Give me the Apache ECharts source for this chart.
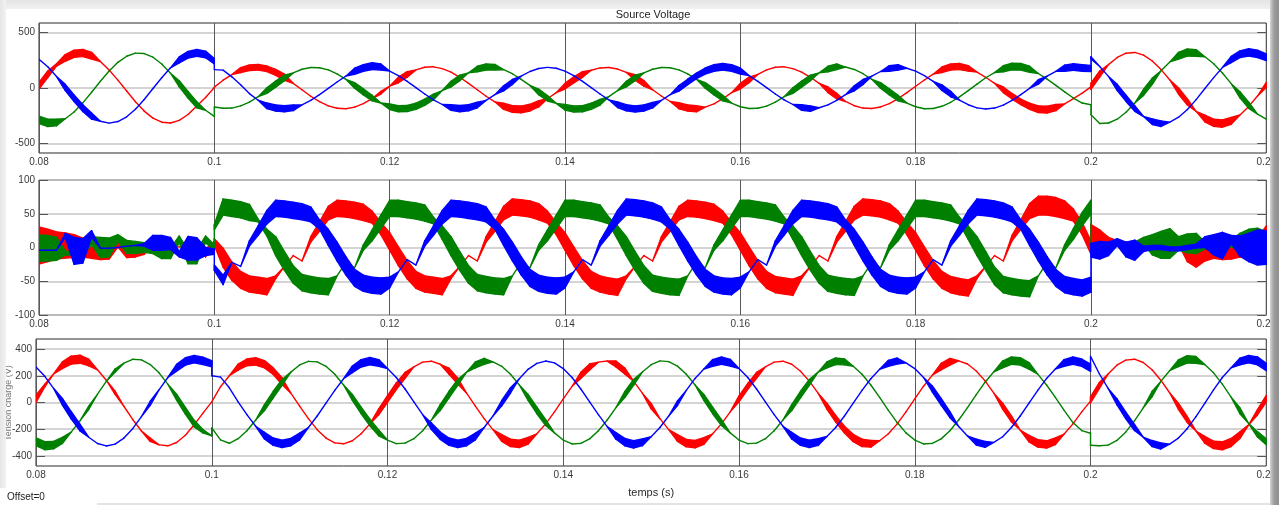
<!DOCTYPE html>
<html>
<head>
<meta charset="utf-8">
<script src="https://cdn.jsdelivr.net/npm/echarts@6/dist/echarts.min.js"></script>
<style>
  html, body { margin: 0; padding: 0; width: 1279px; height: 505px; overflow: hidden; background: #ffffff; }
  #chart { position: absolute; left: 0; top: 0; width: 1279px; height: 505px; }
  .edge { position: absolute; pointer-events: none; z-index: 5; }
  #edgeTop { left: 0; top: 0; width: 1279px; height: 9px; background: linear-gradient(to bottom, #e4e4e4, #f1f1f1); }
  #edgeLeft { left: 0; top: 0; width: 6px; height: 488px; background: linear-gradient(to right, #e6e6e6, #f2f2f2); }
  #edgeRight { left: 1270px; top: 0; width: 9px; height: 505px; background: linear-gradient(to right, #d4d4d4, #9c9c9c 45%, #8e8e8e); }
  #edgeBottom { left: 97px; top: 503px; width: 1173px; height: 2px; background: #e4e4e4; }
</style>
</head>
<body>
<div id="chart"></div>
<div class="edge" id="edgeTop"></div>
<div class="edge" id="edgeLeft"></div>
<div class="edge" id="edgeRight"></div>
<div class="edge" id="edgeBottom"></div>
<script>
// Sample instants in milliseconds. 100 ms and 200 ms appear twice so the
// step changes at the switching instants are drawn as vertical jumps.
const sampleMs = [
  80, 81, 82, 83, 84, 85, 86, 87, 88, 89, 90, 91, 92, 93, 94, 95, 96, 97, 98, 99, 100,
  100,
  101, 102, 103, 104, 105, 106, 107, 108, 109, 110, 111, 112, 113, 114, 115, 116, 117, 118, 119, 120,
  121, 122, 123, 124, 125, 126, 127, 128, 129, 130, 131, 132, 133, 134, 135, 136, 137, 138, 139, 140,
  141, 142, 143, 144, 145, 146, 147, 148, 149, 150, 151, 152, 153, 154, 155, 156, 157, 158, 159, 160,
  161, 162, 163, 164, 165, 166, 167, 168, 169, 170, 171, 172, 173, 174, 175, 176, 177, 178, 179, 180,
  181, 182, 183, 184, 185, 186, 187, 188, 189, 190, 191, 192, 193, 194, 195, 196, 197, 198, 199, 200,
  200, 201, 202, 203, 204, 205, 206, 207, 208, 209, 210, 211, 212, 213, 214, 215, 216, 217, 218, 219, 220
];

// ---- Source voltage (V): centre value and ripple band width per sample ----
const srcRed = [
  20, 123, 207, 270, 307, 314, 290, 238, 162, 71, -27, -123, -207, -270, -307, -314, -290, -238, -162, -85, 5,
  8,
  70, 120, 160, 182, 186, 172, 140, 96, 42, -16, -74, -122, -160, -182, -186, -172, -140, -96, -42, 16,
  72, 122, 162, 186, 190, 174, 142, 96, 42, -16, -74, -124, -164, -188, -192, -176, -142, -96, -42, 16,
  72, 121, 159, 180, 184, 170, 140, 95, 42, -16, -72, -121, -159, -180, -186, -172, -142, -96, -42, 16,
  72, 122, 162, 186, 190, 174, 142, 96, 42, -16, -72, -121, -159, -180, -184, -170, -140, -95, -42, 16,
  72, 124, 164, 188, 192, 176, 142, 96, 42, -16, -74, -124, -164, -190, -194, -176, -142, -96, -46, 10,
  15, 125, 210, 274, 312, 319, 295, 242, 165, 72, -28, -125, -210, -274, -312, -319, -295, -242, -165, -72, 28
];
const srcRedBand = [
  60, 60, 20, 60, 65, 65, 60, 0, 0, 0, 0, 0, 0, 0, 0, 0, 0, 0, 0, 0, 0,
  0,
  0, 0, 45, 50, 50, 50, 55, 55, 0, 0, 0, 0, 0, 0, 0, 0, 0, 0, 25, 0,
  50, 50, 0, 0, 0, 0, 0, 0, 0, 0, 0, 0, 55, 60, 60, 60, 55, 0, 0, 50,
  55, 50, 0, 0, 0, 0, 0, 50, 50, 0, 0, 0, 55, 55, 55, 0, 0, 0, 0, 50,
  50, 0, 0, 0, 0, 0, 0, 0, 0, 50, 50, 0, 0, 0, 0, 0, 0, 0, 0, 0,
  0, 0, 50, 55, 55, 50, 0, 0, 0, 50, 50, 50, 55, 60, 60, 55, 0, 0, 0, 0,
  55, 55, 0, 0, 0, 0, 0, 0, 0, 0, 55, 55, 0, 60, 65, 65, 60, 0, 0, 0, 45
];
const srcGreen = [
  -285, -313, -309, -276, -215, -133, -38, 60, 153, 230, 285, 313, 309, 276, 215, 133, 38, -60, -150, -200, -255,
  -170,
  -182, -180, -160, -126, -78, -23, 35, 90, 135, 168, 184, 182, 162, 126, 78, 23, -35, -90, -135, -168,
  -186, -184, -164, -128, -80, -23, 35, 90, 136, 170, 188, 186, 164, 128, 78, 23, -35, -92, -138, -172,
  -188, -186, -164, -128, -78, -23, 35, 90, 135, 168, 184, 182, 162, 126, 78, 23, -35, -90, -135, -168,
  -184, -182, -162, -126, -78, -23, 35, 90, 136, 170, 190, 188, 166, 128, 78, 23, -35, -90, -135, -168,
  -186, -184, -164, -128, -80, -23, 35, 92, 138, 172, 192, 190, 168, 130, 80, 23, -35, -90, -135, -150,
  -240, -318, -314, -280, -218, -135, -39, 61, 155, 234, 290, 318, 314, 280, 218, 135, 39, -61, -155, -234, -280
];
const srcGreenBand = [
  65, 65, 60, 0, 0, 0, 0, 0, 0, 0, 0, 0, 0, 0, 0, 0, 55, 60, 55, 0, 0,
  0,
  0, 0, 0, 0, 0, 50, 55, 50, 0, 0, 0, 0, 0, 0, 0, 50, 55, 50, 0, 50,
  55, 55, 55, 55, 50, 0, 50, 50, 0, 50, 55, 50, 0, 0, 0, 0, 50, 50, 0, 50,
  55, 55, 55, 50, 0, 0, 50, 50, 0, 0, 0, 0, 0, 0, 0, 50, 55, 50, 0, 0,
  0, 0, 0, 0, 0, 50, 55, 50, 0, 50, 50, 0, 0, 0, 0, 50, 55, 50, 0, 0,
  0, 0, 0, 0, 0, 0, 0, 0, 0, 55, 60, 60, 55, 0, 0, 0, 0, 0, 0, 0,
  0, 0, 0, 0, 0, 0, 55, 55, 0, 0, 60, 65, 60, 0, 0, 0, 0, 55, 55, 0, 0
];
const srcBlue = [
  258, 190, 103, 5, -92, -181, -252, -298, -315, -301, -258, -190, -103, -5, 92, 181, 252, 298, 315, 301, 240,
  165,
  160, 100, 30, -50, -110, -160, -180, -186, -178, -152, -111, -60, -3, 54, 106, 150, 180, 196, 188, 152,
  111, 60, 3, -54, -106, -148, -175, -185, -177, -152, -111, -60, -3, 54, 106, 148, 175, 185, 177, 152,
  111, 60, 3, -54, -106, -150, -178, -188, -180, -154, -111, -60, -3, 54, 108, 152, 180, 190, 180, 152,
  111, 60, 3, -54, -106, -148, -175, -185, -177, -152, -111, -60, -3, 54, 106, 148, 175, 185, 177, 152,
  111, 60, 3, -54, -108, -150, -178, -188, -180, -154, -111, -60, -3, 54, 106, 150, 178, 188, 180, 175,
  270, 193, 104, 5, -93, -184, -256, -303, -320, -306, -262, -193, -104, -5, 93, 184, 256, 303, 320, 306, 275
];
const srcBlueBand = [
  0, 0, 0, 55, 60, 60, 55, 0, 0, 0, 0, 0, 0, 0, 0, 0, 55, 60, 60, 60, 50,
  0,
  0, 0, 0, 0, 0, 50, 55, 55, 50, 0, 0, 0, 0, 0, 0, 55, 60, 60, 55, 0,
  0, 0, 0, 0, 0, 0, 50, 55, 55, 50, 0, 0, 45, 45, 0, 0, 0, 0, 0, 0,
  0, 0, 0, 0, 0, 50, 55, 55, 55, 50, 0, 0, 50, 50, 50, 55, 60, 60, 60, 55,
  0, 0, 0, 0, 0, 0, 50, 50, 0, 0, 0, 0, 45, 45, 0, 0, 50, 50, 0, 0,
  0, 0, 50, 50, 0, 0, 0, 0, 0, 0, 0, 0, 0, 40, 0, 0, 55, 60, 60, 55,
  20, 0, 0, 55, 55, 50, 0, 50, 50, 0, 0, 0, 0, 0, 0, 0, 55, 60, 65, 65, 60
];

// ---- Injected current (A) ----
const curRed = [
  3, 3, 3, 3, 2, 0, -8, -11, -11, 8, -6, -6, -4, 6, -1, 0, 1, 1, 1, -8, 6,
  8,
  -15, -35, -48, -54, -56, -58, -44, -28, -12, -20, 12, 31, 51, 58, 57, 55, 52, 45, 28, 9,
  -13, -33, -48, -54, -56, -58, -44, -28, -12, -20, 12, 31, 51, 60, 59, 57, 53, 45, 28, 9,
  -13, -33, -48, -54, -57, -59, -44, -28, -12, -20, 12, 31, 51, 58, 57, 55, 52, 45, 28, 9,
  -13, -33, -48, -55, -57, -59, -44, -28, -12, -20, 12, 31, 51, 60, 59, 57, 53, 45, 28, 9,
  -13, -33, -48, -55, -58, -60, -44, -28, -12, -20, 14, 34, 54, 62, 62, 60, 56, 48, 28, 0,
  14, 12, 9, 6, 4, 2, 1, 0, 0, 0, 10, -10, -14, -10, -6, -6, -6, -4, -4, 0, 20
];
const curRedBand = [
  55, 48, 40, 37, 34, 28, 16, 14, 12, 14, 18, 16, 12, 4, 0, 0, 0, 0, 0, 12, 6,
  10,
  28, 27, 25, 24, 24, 24, 4, 0, 0, 0, 8, 14, 20, 24, 24, 24, 24, 18, 18, 26,
  28, 27, 25, 24, 24, 24, 4, 0, 0, 0, 8, 14, 20, 24, 24, 24, 24, 18, 18, 26,
  28, 27, 25, 24, 24, 24, 4, 0, 0, 0, 8, 14, 20, 24, 24, 24, 24, 18, 18, 26,
  28, 27, 25, 24, 24, 24, 4, 0, 0, 0, 8, 14, 20, 24, 24, 24, 24, 18, 18, 26,
  28, 27, 25, 24, 24, 24, 4, 0, 0, 0, 8, 14, 22, 28, 28, 28, 26, 18, 18, 20,
  40, 28, 12, 8, 8, 6, 4, 4, 4, 4, 10, 22, 30, 20, 20, 24, 22, 20, 24, 28, 24
];
const curGreen = [
  -1, -1, -2, -8, -9, -9, 10, 0, 0, 14, 1, 0, 0, -7, -9, -9, 12, -14, -14, 12, 0,
  30,
  60, 58, 56, 52, 40, 22, 2, -20, -40, -52, -55, -57, -58, -42, -22, -30, 0, 18, 38, 58,
  58, 56, 54, 51, 40, 22, 2, -20, -40, -52, -55, -57, -58, -42, -22, -30, 0, 18, 38, 58,
  58, 56, 54, 51, 40, 22, 2, -20, -40, -53, -56, -58, -59, -42, -22, -30, 0, 18, 38, 58,
  58, 56, 54, 51, 40, 22, 2, -20, -40, -53, -56, -58, -59, -42, -22, -30, 0, 18, 38, 58,
  58, 56, 54, 51, 40, 22, 2, -20, -42, -55, -58, -60, -61, -42, -22, -30, 0, 20, 42, 60,
  3, 3, 4, 5, 5, 6, 10, 4, 4, 6, 6, 6, 6, 3, 2, 2, 6, 8, 10, 10, 8
];
const curGreenBand = [
  39, 38, 34, 6, 4, 4, 12, 30, 28, 10, 19, 18, 14, 4, 15, 15, 10, 20, 20, 10, 8,
  8,
  24, 24, 24, 24, 4, 10, 28, 28, 26, 24, 24, 24, 24, 0, 0, 0, 8, 16, 20, 24,
  24, 24, 24, 24, 10, 20, 28, 28, 26, 24, 24, 24, 24, 0, 0, 0, 8, 16, 20, 24,
  24, 24, 24, 24, 10, 20, 28, 28, 26, 24, 24, 24, 24, 0, 0, 0, 8, 16, 20, 24,
  24, 24, 24, 24, 10, 20, 28, 28, 26, 24, 24, 24, 24, 0, 0, 0, 8, 16, 20, 24,
  24, 24, 24, 24, 10, 20, 28, 28, 26, 24, 24, 24, 24, 0, 0, 0, 8, 16, 20, 20,
  0, 0, 0, 0, 4, 4, 10, 30, 40, 44, 20, 28, 30, 10, 4, 4, 10, 26, 34, 37, 30
];
const curBlue = [
  -4, -4, -4, 18, -5, -5, 20, -1, -1, 0, 2, 3, 4, 7, 7, 6, -10, -1, -2, -6, -6,
  -30,
  -48, -22, -28, 6, 25, 45, 58, 57, 55, 53, 49, 34, 15, -6, -27, -45, -53, -56, -57, -52,
  -36, -18, -26, 6, 25, 45, 58, 57, 55, 53, 49, 34, 15, -6, -27, -45, -53, -56, -57, -52,
  -36, -18, -26, 6, 25, 45, 60, 59, 57, 54, 49, 34, 15, -6, -27, -45, -54, -57, -58, -52,
  -36, -18, -26, 6, 25, 45, 58, 57, 55, 53, 49, 34, 15, -6, -27, -45, -53, -56, -57, -52,
  -36, -18, -26, 6, 25, 45, 60, 59, 57, 54, 49, 34, 15, -6, -27, -45, -55, -58, -60, -55,
  -4, -4, -2, 8, -3, -4, -2, 0, 0, -2, -2, 0, 2, 8, 4, 3, 12, 2, 0, 0, 0
];
const curBlueBand = [
  0, 0, 0, 6, 40, 36, 10, 0, 0, 0, 0, 0, 4, 22, 22, 18, 8, 35, 33, 12, 8,
  8,
  14, 0, 0, 8, 14, 20, 24, 24, 24, 24, 22, 14, 24, 28, 27, 25, 24, 24, 24, 16,
  0, 0, 0, 8, 14, 20, 24, 24, 24, 24, 22, 14, 24, 28, 27, 25, 24, 24, 24, 16,
  0, 0, 0, 8, 14, 20, 24, 24, 24, 24, 22, 14, 24, 28, 27, 25, 24, 24, 24, 16,
  0, 0, 0, 8, 14, 20, 24, 24, 24, 24, 22, 14, 24, 28, 27, 25, 24, 24, 24, 16,
  0, 0, 0, 8, 14, 20, 24, 24, 24, 24, 22, 14, 24, 28, 27, 25, 24, 24, 24, 22,
  20, 26, 20, 10, 22, 30, 8, 6, 6, 6, 6, 6, 6, 16, 30, 39, 12, 30, 42, 52, 50
];

// ---- Load voltage (V) ----
const loadRed = [
  28, 127, 213, 279, 317, 324, 299, 245, 167, 73, -28, -127, -213, -279, -317, -324, -299, -245, -167, -80, 5,
  5,
  118, 200, 264, 300, 308, 286, 234, 160, 70, -27, -121, -203, -266, -302, -309, -286, -234, -160, -70, 27,
  121, 203, 266, 302, 309, 286, 234, 160, 70, -27, -121, -203, -266, -302, -309, -286, -234, -160, -70, 27,
  121, 203, 266, 302, 310, 288, 236, 160, 70, -27, -121, -203, -266, -304, -312, -288, -234, -160, -70, 27,
  121, 203, 266, 302, 309, 286, 234, 160, 70, -27, -121, -203, -266, -302, -309, -286, -234, -160, -70, 27,
  122, 205, 268, 305, 312, 288, 236, 162, 70, -27, -123, -206, -270, -306, -314, -290, -236, -160, -70, 10,
  20, 127, 213, 279, 317, 324, 299, 245, 167, 73, -28, -127, -213, -279, -317, -324, -299, -245, -167, -73, 28
];
const loadRedBand = [
  55, 20, 0, 50, 60, 60, 50, 0, 0, 25, 0, 0, 0, 25, 0, 0, 0, 0, 0, 0, 0,
  0,
  0, 0, 45, 50, 55, 55, 50, 50, 0, 0, 0, 0, 0, 0, 0, 0, 0, 0, 45, 50,
  50, 45, 0, 0, 0, 0, 45, 45, 0, 0, 0, 0, 50, 55, 55, 50, 0, 0, 0, 0,
  0, 45, 45, 0, 0, 45, 45, 0, 0, 40, 0, 0, 50, 55, 55, 50, 0, 0, 0, 45,
  45, 45, 0, 0, 0, 0, 0, 0, 0, 45, 50, 50, 55, 55, 50, 0, 0, 0, 0, 0,
  0, 0, 50, 50, 0, 0, 0, 0, 0, 45, 45, 0, 50, 55, 55, 50, 0, 0, 0, 0,
  45, 45, 0, 0, 0, 0, 0, 0, 0, 0, 45, 45, 0, 50, 55, 60, 60, 50, 0, 40, 50
];
const loadGreen = [
  -294, -323, -319, -284, -222, -137, -40, 62, 158, 238, 294, 323, 319, 284, 222, 137, 40, -62, -158, -215, -250,
  -190,
  -280, -305, -271, -211, -131, -38, 59, 150, 227, 281, 308, 304, 271, 211, 131, 38, -59, -150, -227, -281,
  -308, -304, -271, -211, -131, -38, 59, 150, 227, 281, 308, 304, 271, 211, 131, 38, -59, -150, -227, -281,
  -310, -306, -272, -211, -131, -38, 59, 150, 228, 283, 311, 306, 272, 211, 131, 38, -59, -150, -227, -281,
  -308, -304, -271, -211, -131, -38, 59, 150, 227, 281, 308, 304, 271, 211, 131, 38, -59, -150, -227, -281,
  -310, -306, -272, -211, -131, -38, 59, 152, 230, 285, 313, 308, 274, 212, 131, 38, -59, -150, -210, -230,
  -320, -323, -319, -284, -222, -137, -40, 62, 158, 238, 294, 323, 319, 284, 222, 137, 40, -62, -158, -238, -294
];
const loadGreenBand = [
  60, 60, 55, 45, 0, 0, 25, 0, 0, 25, 0, 0, 0, 0, 0, 0, 45, 50, 50, 25, 0,
  0,
  0, 0, 0, 0, 0, 45, 50, 45, 0, 0, 0, 0, 0, 0, 0, 45, 50, 50, 45, 0,
  0, 0, 0, 0, 0, 45, 50, 45, 0, 45, 45, 0, 0, 0, 0, 45, 50, 45, 0, 0,
  0, 0, 0, 0, 0, 0, 45, 45, 0, 0, 0, 0, 0, 0, 0, 45, 50, 45, 0, 0,
  0, 0, 0, 0, 0, 45, 50, 45, 0, 45, 50, 45, 0, 0, 0, 0, 0, 0, 0, 0,
  0, 0, 0, 0, 0, 0, 0, 0, 0, 50, 55, 55, 50, 0, 0, 0, 0, 0, 0, 0,
  0, 0, 0, 0, 0, 0, 0, 40, 0, 0, 50, 55, 50, 0, 0, 0, 0, 45, 0, 40, 45
];
const loadBlue = [
  266, 196, 106, 6, -95, -187, -260, -307, -325, -311, -266, -196, -106, -6, 95, 187, 260, 307, 325, 311, 290,
  200,
  190, 110, 5, -91, -178, -248, -293, -310, -296, -254, -187, -101, -5, 91, 178, 248, 293, 310, 296, 254,
  187, 101, 5, -91, -178, -248, -293, -310, -296, -254, -187, -101, -5, 91, 178, 248, 293, 310, 296, 254,
  187, 101, 5, -91, -180, -250, -296, -313, -298, -256, -187, -101, -5, 91, 180, 250, 296, 313, 298, 254,
  187, 101, 5, -91, -178, -248, -293, -310, -296, -254, -187, -101, -5, 91, 178, 248, 293, 310, 296, 254,
  187, 101, 5, -91, -180, -250, -296, -313, -298, -256, -187, -101, -5, 91, 180, 250, 296, 313, 298, 260,
  345, 215, 106, 6, -95, -187, -260, -307, -325, -311, -266, -196, -106, -6, 95, 187, 260, 307, 325, 311, 266
];
const loadBlueBand = [
  0, 0, 0, 50, 55, 50, 0, 0, 0, 0, 0, 0, 0, 30, 0, 0, 50, 55, 55, 55, 45,
  0,
  0, 0, 0, 0, 0, 50, 55, 55, 55, 50, 0, 0, 0, 0, 0, 50, 55, 55, 50, 0,
  0, 0, 0, 0, 50, 55, 55, 55, 55, 50, 0, 0, 40, 40, 0, 0, 0, 0, 0, 0,
  0, 0, 0, 0, 0, 50, 55, 55, 50, 0, 0, 0, 35, 0, 0, 0, 50, 55, 50, 0,
  0, 0, 0, 0, 0, 50, 55, 55, 50, 0, 0, 0, 0, 0, 0, 0, 45, 45, 0, 0,
  0, 45, 50, 45, 0, 0, 45, 45, 0, 0, 0, 0, 0, 0, 0, 0, 50, 55, 55, 55,
  0, 0, 0, 45, 50, 45, 0, 45, 45, 0, 0, 0, 0, 0, 0, 0, 0, 50, 55, 60, 55
];

// Axis ranges and tick labels of the three scopes
const timeRange = [0.08, 0.22];
const timeStep = 0.02;
const srcRange = [-583, 583];
const srcTicks = [-500, 0, 500];
const curRange = [-100, 100];
const curTicks = [-100, -50, 0, 50, 100];
const loadRange = [-475, 475];
const loadTicks = [-400, -200, 0, 200, 400];

const titleText = 'Source Voltage';
const timeLabel = 'temps (s)';
const loadLabel = 'Tension charge (V)';
const offsetText = 'Offset=0';

const phaseColors = { a: '#ff0000', b: '#008000', c: '#0000ff' };
const FONT = '"Liberation Sans", Arial, sans-serif';

const grids = [
  { left: 39, right: 12, top: 23, height: 130 },
  { left: 39, right: 9, top: 180, height: 135 },
  { left: 36, right: 7, top: 339, height: 127 }
];
const ranges = [srcRange, curRange, loadRange];
const ticks = [srcTicks, curTicks, loadTicks];

// A trace is drawn as a chain of quads between the lower and upper ripple
// envelopes; where the ripple is zero the quad collapses into a thin line.
function trace(panel, values, widths, color) {
  const data = sampleMs.map((ms, i) => [ms / 1000, values[i] - widths[i] / 2, values[i] + widths[i] / 2]);
  return {
    type: 'custom',
    xAxisIndex: panel,
    yAxisIndex: panel,
    silent: true,
    clip: true,
    animation: false,
    encode: { x: 0, y: [1, 2] },
    data: data,
    renderItem: function (params, api) {
      const i = params.dataIndexInside;
      if (i === 0) return null;
      const lo0 = api.coord([api.value(0, i - 1), api.value(1, i - 1)]);
      const hi0 = api.coord([api.value(0, i - 1), api.value(2, i - 1)]);
      const lo1 = api.coord([api.value(0, i), api.value(1, i)]);
      const hi1 = api.coord([api.value(0, i), api.value(2, i)]);
      return {
        type: 'polygon',
        shape: { points: [lo0, hi0, hi1, lo1] },
        style: { fill: color, stroke: color, lineWidth: 1.4, lineJoin: 'round' }
      };
    }
  };
}

const xAxes = grids.map((g, i) => ({
  type: 'value',
  gridIndex: i,
  min: timeRange[0],
  max: timeRange[1],
  interval: timeStep,
  axisLine: { show: false },
  axisTick: { show: false },
  axisLabel: { fontSize: 10, color: '#3a3a3a', margin: 4, fontFamily: FONT },
  splitLine: { show: true, lineStyle: { color: '#5a5a5a', width: 1 } },
  name: i === 2 ? timeLabel : '',
  nameLocation: 'middle',
  nameGap: 21,
  nameTextStyle: { fontSize: 11, color: '#2a2a2a', fontFamily: FONT }
}));

const leftAxes = grids.map((g, i) => ({
  type: 'value',
  gridIndex: i,
  min: ranges[i][0],
  max: ranges[i][1],
  axisLine: { show: false },
  axisTick: { show: true, inside: true, length: 9, customValues: ticks[i], lineStyle: { color: '#555', width: 1 } },
  axisLabel: { fontSize: 10, color: '#3a3a3a', margin: 4, customValues: ticks[i], fontFamily: FONT },
  splitLine: { show: true, lineStyle: { color: '#c6c6c6', width: 1.6 } }
}));
const rightAxes = grids.map((g, i) => ({
  type: 'value',
  gridIndex: i,
  position: 'right',
  min: ranges[i][0],
  max: ranges[i][1],
  axisLine: { show: false },
  axisTick: { show: true, inside: true, length: 9, customValues: ticks[i], lineStyle: { color: '#555', width: 1 } },
  axisLabel: { show: false },
  splitLine: { show: false }
}));

const series = [
  trace(0, srcRed, srcRedBand, phaseColors.a),
  trace(0, srcGreen, srcGreenBand, phaseColors.b),
  trace(0, srcBlue, srcBlueBand, phaseColors.c),
  trace(1, curRed, curRedBand, phaseColors.a),
  trace(1, curGreen, curGreenBand, phaseColors.b),
  trace(1, curBlue, curBlueBand, phaseColors.c),
  trace(2, loadRed, loadRedBand, phaseColors.a),
  trace(2, loadGreen, loadGreenBand, phaseColors.b),
  trace(2, loadBlue, loadBlueBand, phaseColors.c)
];

const chart = echarts.init(document.getElementById('chart'), null, { renderer: 'canvas' });
chart.setOption({
  backgroundColor: '#ffffff',
  animation: false,
  textStyle: { fontFamily: FONT },
  grid: grids.map(g => Object.assign({ show: true, borderColor: '#2b2b2b', borderWidth: 1, backgroundColor: 'transparent', containLabel: false }, g)),
  xAxis: xAxes,
  yAxis: leftAxes.concat(rightAxes),
  series: series,
  graphic: [
    { type: 'text', x: 653, y: 15, style: { text: titleText, fill: '#222', font: '11px ' + FONT, textAlign: 'center', textVerticalAlign: 'middle' } },
    { type: 'text', x: 7, y: 497, style: { text: offsetText, fill: '#222', font: '10px ' + FONT, textAlign: 'left', textVerticalAlign: 'middle' } },
    { type: 'text', x: 9, y: 403, rotation: Math.PI / 2, style: { text: loadLabel, fill: '#777', font: '9px ' + FONT, textAlign: 'center', textVerticalAlign: 'middle' } }
  ]
});
</script>
</body>
</html>
